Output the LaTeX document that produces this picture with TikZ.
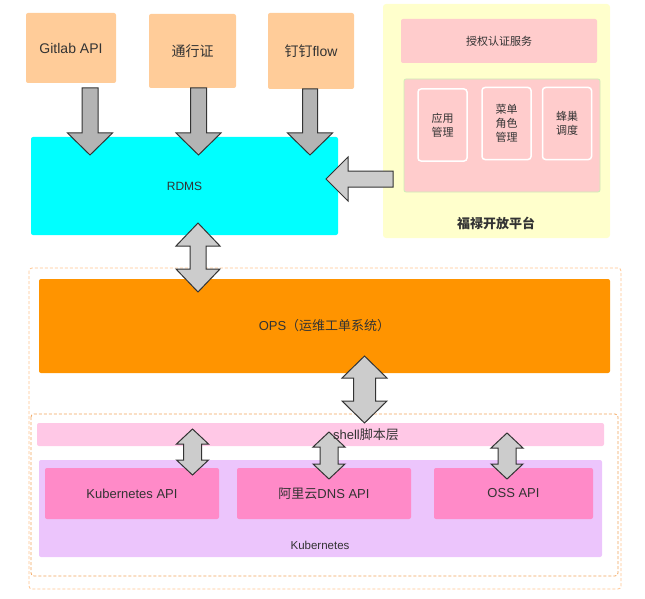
\documentclass[tikz,border=0pt]{standalone}
\usepackage{fontspec}
\setmainfont{Liberation Sans}
\newfontfamily\zh{Noto Sans CJK SC}
\usepackage{tikz}
\usetikzlibrary{calc}
\definecolor{peach}{HTML}{FFCC99}
\definecolor{rdmscyan}{HTML}{00FFFF}
\definecolor{paleyellow}{HTML}{FFFFCC}
\definecolor{rosy}{HTML}{FFCCCC}
\definecolor{minty}{HTML}{CDEFB8}
\definecolor{opsorange}{HTML}{FF9400}
\definecolor{barpink}{HTML}{FFC8E6}
\definecolor{lavender}{HTML}{ECC5FC}
\definecolor{hotpink}{HTML}{FF8AC8}
\definecolor{dashlight}{HTML}{FFC48E}
\definecolor{dashdark}{HTML}{F2A35C}
\definecolor{inkdark}{HTML}{333333}
\definecolor{arrowgray}{HTML}{CCCCCC}
\definecolor{arrowdark}{HTML}{B4B4B4}
\newcommand{\fs}[2]{\fontsize{#1}{#2}\selectfont}
% fat arrows: style, start, tip, shaft half width, head half width, head length
\newcommand{\fatdown}[6]{\draw[#1] ($(#2)+(-#4,0)$) -- ($(#3)+(-#4,-#6)$) -- ($(#3)+(-#5,-#6)$) -- (#3) -- ($(#3)+(#5,-#6)$) -- ($(#3)+(#4,-#6)$) -- ($(#2)+(#4,0)$) -- cycle;}
\newcommand{\fatleft}[6]{\draw[#1] ($(#2)+(0,-#4)$) -- ($(#3)+(#6,-#4)$) -- ($(#3)+(#6,-#5)$) -- (#3) -- ($(#3)+(#6,#5)$) -- ($(#3)+(#6,#4)$) -- ($(#2)+(0,#4)$) -- cycle;}
\newcommand{\fatboth}[6]{\draw[#1] (#2) -- ($(#2)+(#5,#6)$) -- ($(#2)+(#4,#6)$) -- ($(#3)+(#4,-#6)$) -- ($(#3)+(#5,-#6)$) -- (#3) -- ($(#3)+(-#5,-#6)$) -- ($(#3)+(-#4,-#6)$) -- ($(#2)+(-#4,#6)$) -- ($(#2)+(-#5,#6)$) -- cycle;}
\begin{document}
\begin{tikzpicture}[x=1pt, y=-1pt,
  box/.style={rounded corners=2pt, inner sep=0pt, align=center, text=inkdark},
  src/.style={box, fill=peach, font=\fs{14}{16}},
  small/.style={box, fill=rosy, font=\fs{11}{14}},
  item/.style={small, draw=white, line width=1.5pt, rounded corners=3pt, minimum width=49, minimum height=72},
  api/.style={box, fill=hotpink, font=\fs{13}{15}, minimum height=51},
  txt/.style={inner sep=0pt, text=inkdark},
  zone/.style={rounded corners=3pt, dash pattern=on 3pt off 2pt, line width=0.8pt},
  fatarrow/.style={draw=inkdark, line width=1pt, fill=arrowgray},
  fatdark/.style={fatarrow, fill=arrowdark}
]
\useasboundingbox (0,0) rectangle (645,599);

\node[src, minimum width=90, minimum height=70] (gitlab) at (71,48) {Gitlab API};
\node[src, minimum width=87, minimum height=74] (pass) at (192.5,51) {{\zh 通行证}};
\node[src, minimum width=86, minimum height=76] (ddflow) at (311,51) {{\zh 钉钉}flow};
\node[box, fill=rdmscyan, minimum width=307, minimum height=98, font=\fs{12}{14}] (rdms) at (184.5,186) {RDMS};

\node[box, fill=paleyellow, rounded corners=3pt, minimum width=227, minimum height=234] (fulu) at (496.5,121) {};
\node[small, minimum width=196, minimum height=44] (auth) at (499,41) {{\zh 授权认证服务}};
\node[small, draw=minty, line width=0.8pt, minimum width=196, minimum height=113] (mgmt) at (502,135.5) {};
\node[item] (app) at (442.5,125) {{\zh 应用}\\{\zh 管理}};
\node[item] (menu) at (506.5,123.5) {{\zh 菜单}\\{\zh 角色}\\{\zh 管理}};
\node[item] (hive) at (567,123.5) {{\zh 蜂巢}\\{\zh 调度}};
\node[txt, font=\fs{13}{15}\bfseries] (fululabel) at (496,223) {{\zh 福禄开放平台}};

\draw[zone, draw=dashlight] (29,268) rectangle (621,589);
\node[box, fill=opsorange, minimum width=571, minimum height=94, font=\fs{13}{15}] (ops) at (324.5,326) {OPS{\zh （运维工单系统）}};
\draw[zone, draw=dashdark] (31,414) rectangle (618,576);
\node[box, fill=barpink, minimum width=567, minimum height=23] (shell) at (320.5,434.5) {};
\node[box, fill=lavender, minimum width=563, minimum height=97] (k8s) at (320.5,508.5) {};
\node[txt, font=\fs{11.5}{13}] (k8slabel) at (320,545) {Kubernetes};
\node[api, minimum width=174] (k8sapi) at (132,493.5) {Kubernetes API};
\node[api, minimum width=174] (dnsapi) at (324,493.5) {{\zh 阿里云}DNS API};
\node[api, minimum width=159] (ossapi) at (513.5,493.5) {OSS API};

\coordinate (g0) at (90,88);     \coordinate (g1) at (90,155);
\coordinate (p0) at (198.5,88);  \coordinate (p1) at (198.5,155);
\coordinate (d0) at (310,89);    \coordinate (d1) at (310,155);
\coordinate (f0) at (393,179);   \coordinate (f1) at (326,179);
\coordinate (r0) at (198,223);   \coordinate (r1) at (198,292);
\coordinate (o0) at (364.5,356); \coordinate (o1) at (364.5,423);
\coordinate (s0) at (192.5,429); \coordinate (s1) at (192.5,475);
\coordinate (t0) at (329,432);   \coordinate (t1) at (329,479);
\coordinate (u0) at (507,433);   \coordinate (u1) at (507,479);

\fatdown{fatdark}{g0}{g1}{8}{22.5}{22}
\fatdown{fatdark}{p0}{p1}{8}{22.5}{22}
\fatdown{fatdark}{d0}{d1}{7.5}{22.5}{22}
\fatleft{fatarrow}{f0}{f1}{8}{22}{22}
\fatboth{fatarrow}{r0}{r1}{8}{22}{23}
\fatboth{fatarrow}{o0}{o1}{11}{22.5}{22}
\fatboth{fatarrow}{s0}{s1}{9}{16}{15}
\fatboth{fatarrow}{t0}{t1}{9}{16}{15}
\fatboth{fatarrow}{u0}{u1}{9}{16}{15}

\node[txt, font=\fs{13}{15}] (shelllabel) at (366,435) {shell{\zh 脚本层}};
\end{tikzpicture}
\end{document}
